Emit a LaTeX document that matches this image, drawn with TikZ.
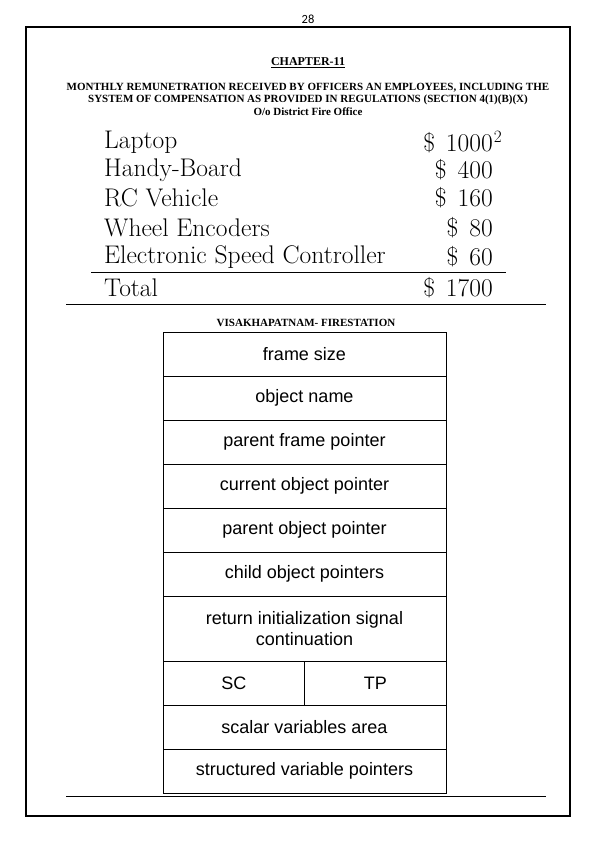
\documentclass[tikz,border=0pt]{standalone}
\usepackage{fontspec}
\newfontfamily\timesfont{Liberation Serif}
\newfontfamily\armfont{Liberation Sans}
\newfontfamily\pagefont{Carlito}
\usepackage{tikz}
\usetikzlibrary{positioning}

\begin{document}
\begin{tikzpicture}[x=1pt,y=-1pt,
        head/.style={font=\timesfont\bfseries\fontsize{11}{12}\selectfont,inner sep=0pt},
        item/.style={anchor=west,inner sep=0pt,font=\fontsize{25.5}{28}\selectfont},
        price/.style={anchor=east,inner sep=0pt,font=\fontsize{25.5}{28}\selectfont},
        cell/.style={rectangle,draw,line width=0.8pt,outer sep=0pt,
                     minimum width=283pt,inner sep=0pt,
                     align=center,font=\armfont\fontsize{18}{20}\selectfont}]
    \useasboundingbox (0,0) rectangle (596,842);

    \node[font=\pagefont\fontsize{12.5}{13}\selectfont,inner sep=0pt] (pnum) at (308,19) {28};
    \draw[line width=2pt] (26,27) rectangle (570,816);

    \node[font=\timesfont\bfseries\fontsize{12}{14}\selectfont,inner sep=0pt] (chap) at (308,63) {\underline{CHAPTER-11}};
    \node[head] (t1) at (308,88) {MONTHLY REMUNETRATION RECEIVED BY OFFICERS AN EMPLOYEES, INCLUDING THE};
    \node[head] (t2) at (308,99.5) {SYSTEM OF COMPENSATION AS PROVIDED IN REGULATIONS (SECTION 4(1)(B)(X)};
    \node[head] (t3) at (308,112) {O/o District Fire Office};

    % cost table
    \node[item] (i1) at (104,142) {Laptop};
    \node[item] (i2) at (104,170) {Handy-Board};
    \node[item] (i3) at (104,198) {RC Vehicle};
    \node[item] (i4) at (104,228) {Wheel Encoders};
    \node[item] (i5) at (104,257) {Electronic Speed Controller};
    \node[item] (i6) at (104,288) {Total};
    \node[price] (p1) at (493,142) {\$\hspace{11pt}1000\rlap{\hspace{1pt}$^2$}};
    \node[price] (p2) at (493,170) {\$\hspace{11pt}400};
    \node[price] (p3) at (493,198) {\$\hspace{11pt}160};
    \node[price] (p4) at (493,228) {\$\hspace{11pt}80};
    \node[price] (p5) at (493,257) {\$\hspace{11pt}60};
    \node[price] (p6) at (493,288) {\$\hspace{11pt}1700};
    \draw[line width=0.9pt] (91,272) -- (506,272);
    \draw[line width=0.9pt] (66,304) -- (546,304);

    \node[head] (vsk) at (306,323) {VISAKHAPATNAM- FIRESTATION};

    % frame layout
    \node[cell,minimum height=44pt] (fsize) at (304.5,354) {frame size};
    \node[cell,minimum height=44pt,below=0pt of fsize] (oname) {object name};
    \node[cell,minimum height=44pt,below=0pt of oname] (pfp) {parent frame pointer};
    \node[cell,minimum height=44pt,below=0pt of pfp] (cop) {current object pointer};
    \node[cell,minimum height=44pt,below=0pt of cop] (pop) {parent object pointer};
    \node[cell,minimum height=44pt,below=0pt of pop] (chp) {child object pointers};
    \node[cell,minimum height=65pt,below=0pt of chp] (ret) {return initialization signal\\[1pt]continuation};
    \node[cell,minimum height=44pt,minimum width=141.5pt,anchor=north west] (sc) at (ret.south west) {SC};
    \node[cell,minimum height=44pt,minimum width=141.5pt,anchor=north east] (tp) at (ret.south east) {TP};
    \node[cell,minimum height=44pt,anchor=north west] (sva) at (sc.south west) {scalar variables area};
    \node[cell,minimum height=44pt,below=0pt of sva] (svp) {structured variable pointers};

    \draw[line width=0.9pt] (66,796) -- (546,796);
  \end{tikzpicture}
\end{document}
